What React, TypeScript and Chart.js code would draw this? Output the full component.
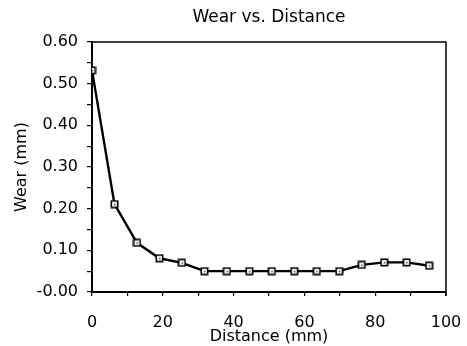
import React, { useEffect, useRef } from "react";
import { Chart, registerables } from "chart.js";

Chart.register(...registerables);

const distanceMm = [0, 6.35, 12.7, 19.05, 25.4, 31.75, 38.1, 44.45, 50.8, 57.15, 63.5, 69.85, 76.2, 82.55, 88.9, 95.25];
const wearMm = [0.532, 0.211, 0.118, 0.081, 0.07, 0.05, 0.05, 0.05, 0.05, 0.05, 0.05, 0.05, 0.065, 0.071, 0.071, 0.063];
const titleText = "Wear vs. Distance";
const xTitle = "Distance (mm)";
const yTitle = "Wear (mm)";

const FONT = "'DejaVu Sans', 'Liberation Sans', sans-serif";

function makeMarker(): HTMLCanvasElement {
  const c = document.createElement("canvas");
  c.width = 9;
  c.height = 9;
  const ctx = c.getContext("2d")!;
  ctx.fillStyle = "#ffffff";
  ctx.fillRect(1, 1, 7, 7);
  ctx.strokeStyle = "#000000";
  ctx.lineWidth = 1.6;
  ctx.strokeRect(1.3, 1.3, 6.4, 6.4);
  ctx.fillStyle = "#444444";
  ctx.fillRect(4, 4, 1.5, 1.5);
  return c;
}

const framePlugin = {
  id: "frame",
  afterDatasetsDraw(chart: any) {
    const { ctx, chartArea } = chart;
    ctx.save();
    ctx.strokeStyle = "#000";
    ctx.lineWidth = 1.5;
    ctx.beginPath();
    ctx.moveTo(chartArea.left, chartArea.top);
    ctx.lineTo(chartArea.right, chartArea.top);
    ctx.lineTo(chartArea.right, chartArea.bottom + 4);
    ctx.stroke();
    ctx.restore();
  },
};

export default function App() {
  const ref = useRef<HTMLCanvasElement | null>(null);

  useEffect(() => {
    if (!ref.current) return;
    const marker = makeMarker();
    const chart = new Chart(ref.current, {
      type: "line",
      data: {
        datasets: [
          {
            data: distanceMm.map((x, i) => ({ x, y: wearMm[i] })),
            borderColor: "#000",
            borderWidth: 2.4,
            pointStyle: marker as any,
            pointRadius: 4.5,
            tension: 0,
            fill: false,
          },
        ],
      },
      options: {
        animation: false,
        responsive: true,
        maintainAspectRatio: false,
        layout: { padding: { left: 0, right: 21, top: 0, bottom: 0 } },
        plugins: {
          legend: { display: false },
          tooltip: { enabled: false },
          title: {
            display: true,
            text: titleText,
            fullSize: false,
            color: "#000",
            font: { family: FONT, size: 17, weight: "normal" },
            padding: { top: 7, bottom: 14.6 },
          },
        },
        scales: {
          x: {
            type: "linear",
            min: 0,
            max: 100,
            afterFit: (s: any) => {
              s.height = 54;
              s.paddingLeft = 0;
              s.paddingRight = 0;
            },
            ticks: {
              stepSize: 10,
              autoSkip: false,
              maxRotation: 0,
              padding: 17,
              color: "#000",
              font: { family: FONT, size: 16 },
              callback: (v: any) => (Math.round(v) % 20 === 0 ? String(Math.round(v)) : ""),
            },
            grid: { drawOnChartArea: false, tickLength: 4, color: "#000", lineWidth: 1.2 },
            border: { color: "#000", width: 2 },
            title: {
              display: true,
              text: xTitle,
              color: "#000",
              font: { family: FONT, size: 16 },
              padding: { top: 1.5, bottom: 0 },
            },
          },
          y: {
            type: "linear",
            min: 0,
            max: 0.6,
            afterFit: (s: any) => {
              s.width = 92;
            },
            ticks: {
              stepSize: 0.05,
              autoSkip: false,
              padding: 9,
              color: "#000",
              font: { family: FONT, size: 16 },
              callback: (v: any) => {
                const h = Math.round(v * 100);
                if (h % 10 !== 0) return "";
                return h === 0 ? "-0.00" : (h / 100).toFixed(2);
              },
            },
            grid: { drawOnChartArea: false, tickLength: 5, color: "#000", lineWidth: 1.2 },
            border: { color: "#000", width: 2 },
            title: {
              display: true,
              text: yTitle,
              color: "#000",
              font: { family: FONT, size: 16 },
              padding: { top: 12.4, bottom: 0 },
            },
          },
        },
      },
      plugins: [framePlugin],
    });
    return () => chart.destroy();
  }, []);

  return (
    <div style={{ position: "fixed", left: 0, top: 0, width: 467, height: 346, background: "#fff" }}>
      <canvas ref={ref} />
    </div>
  );
}
